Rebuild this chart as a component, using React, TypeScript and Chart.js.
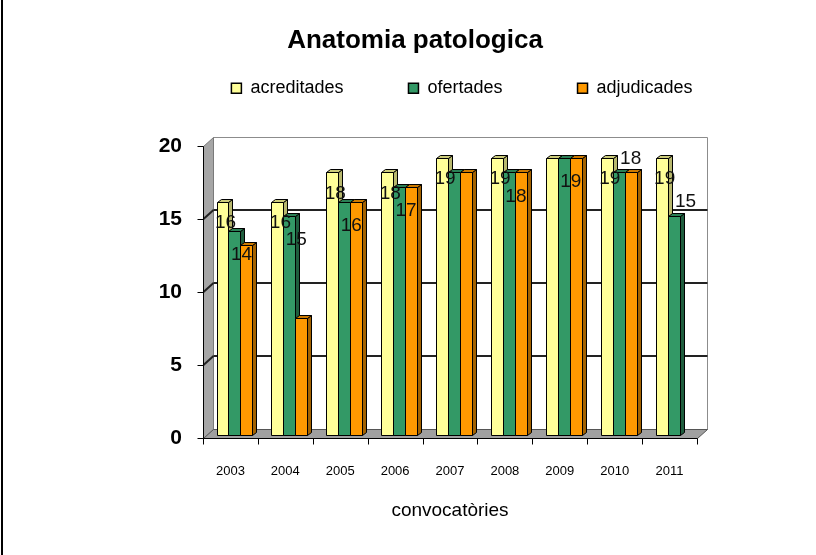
import React, { useEffect, useRef } from 'react';
import { Chart, registerables } from 'chart.js';

Chart.register(...registerables);

const chartTitle = 'Anatomia patologica';
const axisTitle = 'convocatòries';
const categories = ['2003', '2004', '2005', '2006', '2007', '2008', '2009', '2010', '2011'];
const seriesNames = ['acreditades', 'ofertades', 'adjudicades'];
const acreditades = [16, 16, 18, 18, 19, 19, 19, 19, 19];
const ofertades = [14, 15, 16, 17, 18, 18, 19, 18, 15];
const adjudicades: (number | null)[] = [13, 8, 16, 17, 18, 18, 19, 18, null];
const acreditadesLabels: (number | null)[] = [16, 16, 18, 18, 19, 19, null, 19, 19];
const ofertadesLabels: (number | null)[] = [14, 15, 16, 17, null, 18, 19, 18, 15];
const ofertadesLabelAbove = [false, false, false, false, false, false, false, true, true];
const yTickValues = [0, 5, 10, 15, 20];

const FONT = "'Liberation Sans', Arial, sans-serif";
const faces = [
  { front: '#FFFF99', top: '#CCCC7A', side: '#B8B86E' },
  { front: '#339966', top: '#2B7F55', side: '#1F5E3E' },
  { front: '#FF9900', top: '#CC7A00', side: '#A36200' },
];
const legendTrail = [11, 13, 0];

const WALL_DX = 10;
const WALL_DY = -9;
const BAR_DX = 4;
const BAR_DY = -3;
const DEPTH_X = 4;
const DEPTH_Y = -3;

function poly(ctx: CanvasRenderingContext2D, pts: number[][], fill: string | null, stroke: string | null, lw = 1) {
  ctx.beginPath();
  ctx.moveTo(pts[0][0], pts[0][1]);
  for (let k = 1; k < pts.length; k++) ctx.lineTo(pts[k][0], pts[k][1]);
  ctx.closePath();
  if (fill) {
    ctx.fillStyle = fill;
    ctx.fill();
  }
  if (stroke) {
    ctx.strokeStyle = stroke;
    ctx.lineWidth = lw;
    ctx.stroke();
  }
}

function line(ctx: CanvasRenderingContext2D, x1: number, y1: number, x2: number, y2: number) {
  ctx.beginPath();
  ctx.moveTo(x1, y1);
  ctx.lineTo(x2, y2);
  ctx.stroke();
}

const excel3d = {
  id: 'excel3d',
  afterLayout(chart: any) {
    const lg = chart.legend;
    if (lg) {
      lg.left += 12;
      lg.right += 12;
    }
  },
  beforeDatasetsDraw(chart: any) {
    const { ctx, chartArea: ca, scales } = chart;
    const ys = scales.y;
    const xs = scales.x;
    const L = Math.round(ca.left) + 0.5;
    const R = Math.round(ca.right) + 0.5;
    const T = Math.round(ys.getPixelForValue(20)) + 0.5;
    const B = Math.round(ys.getPixelForValue(0)) + 0.5;
    ctx.save();
    // back wall
    poly(ctx, [[L + WALL_DX, T + WALL_DY], [R + WALL_DX, T + WALL_DY], [R + WALL_DX, B + WALL_DY], [L + WALL_DX, B + WALL_DY]], '#ffffff', '#8c8c8c');
    // side wall
    poly(ctx, [[L, B], [L, T], [L + WALL_DX, T + WALL_DY], [L + WALL_DX, B + WALL_DY]], '#a6a6a6', '#7a7a7a');
    // floor
    poly(ctx, [[L, B], [R, B], [R + WALL_DX, B + WALL_DY], [L + WALL_DX, B + WALL_DY]], '#a0a0a0', '#555555');
    // gridlines
    ctx.strokeStyle = '#222222';
    ctx.lineWidth = 2;
    for (const v of yTickValues) {
      if (v === 0 || v === 20) continue;
      const yv = Math.round(ys.getPixelForValue(v));
      line(ctx, L + WALL_DX, yv + WALL_DY, R + WALL_DX, yv + WALL_DY);
      line(ctx, L, yv, L + WALL_DX, yv + WALL_DY);
    }
    // axes
    ctx.strokeStyle = '#000000';
    ctx.lineWidth = 1;
    line(ctx, L, T, L, B);
    for (const v of yTickValues) {
      const yv = Math.round(ys.getPixelForValue(v)) + 0.5;
      line(ctx, L - 6, yv, L, yv);
    }
    line(ctx, L, B, R, B);
    for (let k = 0; k <= categories.length; k++) {
      const xk = Math.round(xs.getPixelForValue(k - 0.5)) + 0.5;
      line(ctx, xk, B, xk, B + 6);
    }
    // bars
    const metas = [0, 1, 2].map((j) => chart.getDatasetMeta(j));
    for (let i = 0; i < categories.length; i++) {
      for (let j = 0; j < 3; j++) {
        const v = chart.data.datasets[j].data[i];
        if (v === null || v === undefined) continue;
        const el = metas[j].data[i];
        const p = el.getProps(['x', 'y', 'base', 'width'], true);
        const l = Math.round(p.x - p.width / 2 + BAR_DX) + 0.5;
        const r = Math.round(p.x + p.width / 2 + BAR_DX) + 0.5;
        const t = Math.round(p.y + BAR_DY) + 0.5;
        const b = Math.round(p.base + BAR_DY) + 0.5;
        const f = faces[j];
        poly(ctx, [[r, b], [r, t], [r + DEPTH_X, t + DEPTH_Y], [r + DEPTH_X, b + DEPTH_Y]], f.side, '#000', 1);
        poly(ctx, [[l, t], [r, t], [r + DEPTH_X, t + DEPTH_Y], [l + DEPTH_X, t + DEPTH_Y]], f.top, '#000', 1);
        poly(ctx, [[l, t], [r, t], [r, b], [l, b]], f.front, '#000', 1);
      }
    }
    // data labels
    ctx.font = `19px ${FONT}`;
    ctx.fillStyle = '#111111';
    ctx.textAlign = 'center';
    ctx.textBaseline = 'middle';
    for (let i = 0; i < categories.length; i++) {
      const a = acreditadesLabels[i];
      if (a !== null) {
        const el = metas[0].data[i];
        ctx.fillText(String(a), el.x + BAR_DX + 3, ys.getPixelForValue(a) + BAR_DY + 21);
      }
      const o = ofertadesLabels[i];
      if (o !== null) {
        const el = metas[1].data[i];
        if (ofertadesLabelAbove[i]) {
          ctx.fillText(String(o), el.x + BAR_DX + 12, ys.getPixelForValue(o) + BAR_DY - 14);
        } else {
          ctx.fillText(String(o), el.x + BAR_DX + 7, ys.getPixelForValue(o) + BAR_DY + 24);
        }
      }
    }
    ctx.restore();
    return false;
  },
  afterDraw(chart: any) {
    const { ctx } = chart;
    ctx.save();
    ctx.fillStyle = '#000000';
    ctx.fillRect(1, 0, 2, chart.height);
    ctx.restore();
  },
};

export default function App() {
  const canvasRef = useRef<HTMLCanvasElement | null>(null);

  useEffect(() => {
    document.body.style.margin = '0';
    const canvas = canvasRef.current;
    if (!canvas) return;
    const seriesData = [acreditades, ofertades, adjudicades];
    const chart = new Chart(canvas, {
      type: 'bar',
      data: {
        labels: categories,
        datasets: seriesNames.map((name, j) => ({
          label: name,
          data: seriesData[j] as any,
          backgroundColor: faces[j].front,
          borderColor: '#000000',
          borderWidth: 1,
          categoryPercentage: 0.65,
          barPercentage: 1,
        })),
      },
      options: {
        responsive: false,
        animation: false,
        events: [],
        devicePixelRatio: 1,
        layout: { padding: { left: 14, right: 0, top: 0, bottom: 0 } },
        plugins: {
          title: {
            display: true,
            text: chartTitle,
            color: '#000000',
            font: { family: FONT, size: 26, weight: 'bold' },
            padding: { top: 25, bottom: 13 },
          },
          subtitle: {
            display: true,
            text: ' ',
            weight: 500,
            font: { family: FONT, size: 10 },
            padding: { top: 0, bottom: 27 },
          } as any,
          legend: {
            display: true,
            position: 'top',
            fullSize: false,
            align: 'center',
            labels: {
              color: '#000000',
              font: { family: FONT, size: 18 },
              boxWidth: 10,
              boxHeight: 10,
              padding: 10,
              generateLabels(ch: any) {
                const items = (Chart.defaults.plugins.legend.labels as any).generateLabels(ch);
                return items.map((it: any, i: number) => ({
                  ...it,
                  text: it.text + ' '.repeat(legendTrail[i] || 0),
                  lineWidth: 1.5,
                  strokeStyle: '#000000',
                }));
              },
            },
          },
          tooltip: { enabled: false },
        },
        scales: {
          x: {
            grid: { display: false },
            border: { display: false },
            ticks: { color: '#000000', font: { family: FONT, size: 13 }, padding: 18, maxRotation: 0, autoSkip: false },
            title: {
              display: true,
              text: axisTitle,
              color: '#000000',
              font: { family: FONT, size: 19 },
              padding: { top: 0, bottom: 33 },
            },
            afterFit(s: any) {
              s.height = 117;
            },
          },
          y: {
            min: 0,
            max: 20,
            grid: { display: false },
            border: { display: false },
            ticks: { stepSize: 5, color: '#000000', font: { family: FONT, size: 21, weight: 'bold' }, padding: 13 },
            afterFit(s: any) {
              s.width = 189;
            },
          },
          yR: {
            type: 'linear',
            position: 'right',
            display: true,
            grid: { display: false },
            border: { display: false },
            ticks: { display: false },
            afterFit(s: any) {
              s.width = 119;
            },
          },
        },
      } as any,
      plugins: [excel3d as any],
    });
    return () => chart.destroy();
  }, []);

  return (
    <div style={{ width: 816, height: 555, position: 'relative' }}>
      <canvas ref={canvasRef} width={816} height={555} style={{ display: 'block' }} />
    </div>
  );
}
